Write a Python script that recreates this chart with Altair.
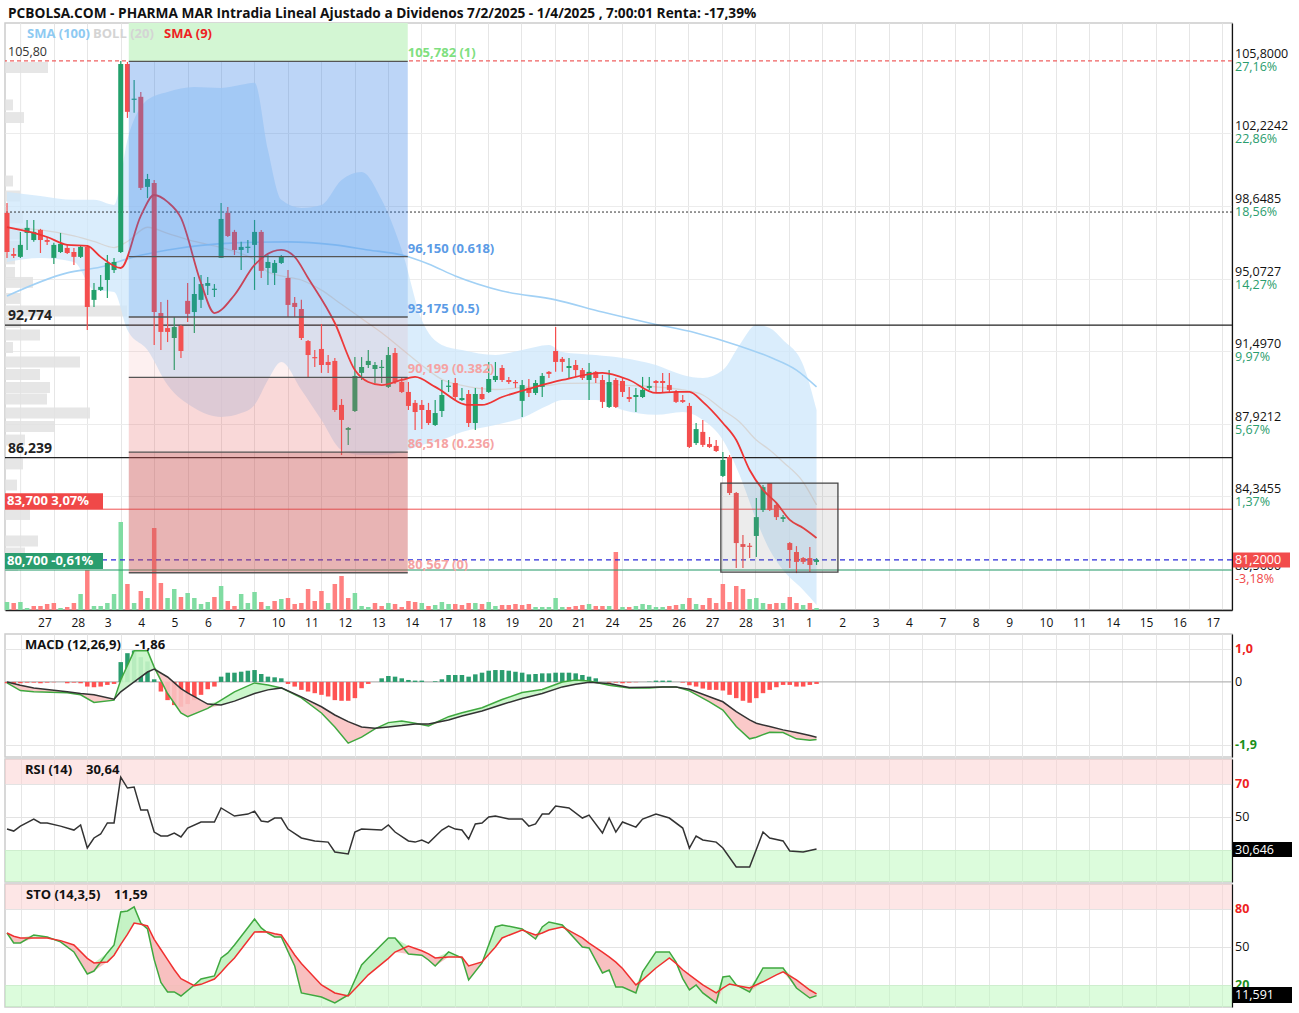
import altair as alt
import pandas as pd

FONT = "Open Sans"
W, H_MAIN, H_SUB = 1227, 587, 123
X0, X1 = -0.3, 183.1            # candle-index domain
P0, P1 = 78.73, 107.67          # price domain (EUR)
GRID0, GRID_STEP = 2.04, 4.99   # day boundaries in candle units
PX_PER_CANDLE = 6.69
EUR_PER_PX = 1 / 20.28

GREEN, RED = "#22a06b", "#f44e4e"
VGREEN, VRED = "#80dca2", "#ff8080"

# ---------------- data ----------------
day_labels = ["27", "28", "3", "4", "5", "6", "7", "10", "11", "12", "13", "14", "17", "18", "19", "20", "21",
              "24", "25", "26", "27", "28", "31", "1", "2", "3", "4", "7", "8", "9", "10", "11", "14", "15",
              "16", "17"]

c_open = [98.31, 96.28, 96.14, 97.32, 96.97, 97.47, 96.97, 96.09, 96.38, 96.58,
          96.38, 96.14, 96.63, 94.02, 94.51, 95.00, 95.49, 96.38, 105.65, 103.88,
          104.03, 99.59, 99.78, 93.37, 92.63, 92.14, 92.73, 93.97, 93.42, 94.02,
          94.71, 94.51, 96.09, 98.31, 97.37, 96.48, 96.58, 96.73, 97.37, 95.59,
          95.35, 95.84, 95.10, 93.87, 93.57, 91.99, 91.20, 91.60, 90.96, 91.01,
          88.84, 87.61, 88.54, 90.42, 90.81, 90.61, 90.66, 89.73, 91.40, 89.97,
          89.48, 88.94, 88.84, 88.59, 87.85, 88.54, 89.73, 89.92, 89.08, 89.38,
          87.95, 89.38, 89.48, 90.07, 90.66, 90.07, 89.97, 89.04, 89.68, 89.43,
          89.73, 90.47, 91.50, 91.11, 90.66, 90.81, 90.56, 90.07, 90.47, 90.07,
          88.74, 90.07, 90.02, 89.23, 89.23, 89.23, 89.68, 90.02, 90.02, 89.82,
          89.48, 89.08, 88.79, 86.96, 87.51, 86.91, 86.82, 85.34, 86.27, 84.50,
          81.98, 81.90, 82.38, 83.66, 84.99, 83.91, 83.22, 82.03, 81.59, 81.29,
          81.29, 81.10]
c_high = [98.80, 96.58, 97.37, 97.96, 97.96, 97.52, 97.12, 96.83, 97.32, 96.73,
          96.58, 96.73, 96.73, 94.85, 95.25, 96.23, 96.09, 105.80, 105.75, 104.86,
          104.27, 100.23, 99.93, 93.92, 94.02, 93.18, 92.78, 94.85, 95.15, 95.25,
          95.15, 94.80, 98.80, 98.60, 97.47, 96.88, 96.97, 97.96, 97.47, 96.23,
          95.99, 96.23, 95.49, 94.16, 94.02, 92.04, 91.55, 92.83, 91.30, 91.16,
          89.13, 87.75, 91.20, 91.20, 91.55, 90.96, 91.06, 91.70, 91.65, 90.22,
          89.97, 89.08, 89.08, 88.94, 89.08, 90.07, 90.07, 90.17, 89.68, 89.58,
          89.68, 89.73, 90.96, 90.96, 90.81, 90.22, 90.07, 90.07, 90.12, 90.07,
          90.42, 90.51, 92.68, 91.20, 91.16, 91.06, 90.66, 90.91, 90.51, 90.32,
          90.56, 90.17, 90.17, 89.73, 89.68, 90.22, 90.22, 90.07, 90.42, 90.42,
          89.58, 89.33, 88.94, 87.95, 88.10, 87.26, 87.11, 86.52, 86.37, 84.55,
          82.43, 82.03, 84.25, 84.89, 84.99, 84.01, 83.41, 82.08, 81.88, 81.34,
          81.84, 81.29]
c_low = [96.09, 96.09, 96.09, 96.48, 96.88, 96.33, 96.73, 95.79, 96.33, 96.28,
         95.74, 96.09, 92.54, 93.67, 94.46, 94.11, 95.35, 96.33, 102.99, 103.24,
         99.44, 99.04, 91.80, 91.55, 91.94, 90.56, 91.16, 92.93, 92.39, 93.62,
         94.26, 94.16, 96.09, 97.12, 96.23, 95.49, 96.33, 94.51, 95.10, 94.75,
         94.75, 95.79, 93.18, 93.18, 92.04, 90.22, 90.71, 90.42, 90.42, 88.49,
         86.37, 86.87, 88.49, 90.07, 90.66, 89.92, 89.92, 89.68, 89.87, 89.43,
         88.59, 87.61, 87.65, 87.85, 87.80, 88.25, 89.48, 89.08, 89.04, 87.75,
         87.61, 89.08, 89.43, 89.97, 89.97, 89.87, 89.68, 88.25, 89.23, 89.33,
         89.23, 90.17, 90.47, 90.47, 90.12, 90.22, 90.07, 89.08, 89.92, 88.69,
         88.69, 88.69, 89.23, 88.99, 88.49, 89.18, 89.58, 89.43, 89.43, 89.43,
         88.94, 88.94, 86.72, 86.87, 86.77, 86.72, 86.52, 85.29, 84.40, 80.80,
         80.80, 81.29, 81.34, 83.56, 83.61, 83.17, 83.07, 80.80, 80.55, 81.00,
         80.60, 80.95]
c_close = [96.38, 96.19, 96.73, 97.57, 97.37, 96.97, 96.88, 96.73, 96.78, 96.33,
           96.14, 96.63, 93.67, 94.51, 94.66, 95.84, 95.89, 105.65, 103.29, 103.93,
           99.54, 99.98, 93.42, 92.44, 92.44, 92.68, 91.50, 93.33, 94.31, 94.80,
           94.85, 94.56, 98.01, 97.17, 96.48, 96.63, 96.63, 97.37, 95.45, 95.89,
           95.84, 96.14, 93.77, 93.67, 92.14, 91.30, 91.16, 90.81, 90.81, 88.59,
           88.10, 87.70, 90.27, 90.71, 91.01, 90.81, 90.71, 91.30, 89.97, 89.48,
           88.79, 88.49, 88.59, 87.95, 88.44, 89.33, 89.77, 89.23, 89.18, 87.95,
           89.38, 89.13, 90.12, 90.27, 90.07, 89.97, 89.92, 89.82, 89.43, 89.92,
           90.27, 90.37, 90.96, 90.96, 90.76, 90.56, 90.17, 90.47, 90.17, 88.99,
           89.97, 88.74, 89.48, 89.13, 89.33, 89.58, 89.77, 89.92, 89.92, 89.58,
           88.99, 88.99, 86.77, 87.65, 86.87, 86.77, 86.57, 86.13, 84.50, 82.03,
           81.84, 81.84, 83.31, 84.79, 83.66, 83.31, 83.31, 81.69, 81.10, 81.10,
           80.95, 81.20]
c_vol = [8, 7, 8, 2, 4, 4, 6, 7, 2, 3,
         7, 16, 40, 4, 4, 7, 16, 88, 26, 7,
         19, 12, 82, 27, 12, 21, 13, 17, 12, 6,
         8, 13, 24, 9, 4, 16, 7, 18, 8, 4,
         9, 11, 12, 6, 7, 21, 9, 19, 7, 26,
         34, 12, 17, 4, 3, 7, 4, 7, 6, 3,
         9, 8, 7, 4, 5, 8, 6, 6, 5, 7,
         7, 6, 8, 4, 5, 5, 6, 5, 6, 3,
         3, 3, 12, 3, 3, 4, 5, 6, 4, 4,
         4, 58, 3, 3, 4, 6, 5, 3, 3, 4,
         5, 6, 12, 6, 5, 12, 7, 26, 8, 24,
         21, 11, 12, 7, 6, 7, 7, 13, 7, 5,
         7, 2]

bb_i = [0, 5, 10, 13, 16, 18, 21, 24, 28, 32, 35, 37, 39, 41, 44, 47, 50, 53, 56, 59, 62, 65, 68, 73, 77,
        81, 83, 88, 92, 97, 101, 104, 107, 109.5, 112, 114, 116, 119, 121]
bb_up = [99.34, 99.14, 98.95, 98.95, 98.70, 101.90, 103.88, 104.27, 104.52, 104.47, 104.62, 104.72, 101.41,
         98.95, 98.55, 98.70, 99.93, 100.33, 98.95, 96.48, 93.03, 91.80, 91.55, 91.30, 91.55, 91.80, 91.45,
         91.30, 91.16, 90.81, 90.32, 90.17, 90.56, 91.80, 92.78, 92.63, 92.04, 90.81, 88.59]
bb_mid = [97.57, 97.47, 97.17, 96.90, 96.60, 96.90, 97.60, 97.30, 96.90, 96.60, 96.30, 96.00, 95.40, 95.20,
          95.00, 94.50, 93.80, 93.10, 92.40, 91.60, 90.80, 90.10, 89.80, 89.60, 89.70, 89.80, 89.90, 89.92,
          89.82, 89.73, 89.58, 89.33, 88.59, 88.00, 87.11, 86.62, 86.03, 85.04, 83.91]
bb_lo = [95.89, 96.09, 95.89, 94.51, 94.41, 92.54, 91.55, 89.82, 88.69, 88.25, 88.44, 88.84, 90.07, 90.96,
         89.58, 88.10, 86.62, 86.37, 86.37, 86.52, 86.86, 87.11, 87.50, 87.85, 88.20, 88.84, 89.08, 89.08,
         88.59, 88.35, 88.49, 88.10, 87.11, 85.39, 83.17, 81.69, 80.70, 79.72, 78.98]

s100_i = [0, 9, 14, 19, 24, 34, 42, 49, 54, 59, 63, 67, 74, 82, 89, 96, 103, 109, 114, 118, 121]
s100_v = [94.21, 95.35, 95.64, 96.14, 96.48, 96.83, 96.88, 96.73, 96.48, 96.23, 95.79, 95.20, 94.46, 94.02,
          93.42, 92.88, 92.39, 91.80, 91.20, 90.56, 89.73]

s9_i = [0, 2, 4, 6, 9, 12, 14, 17, 20, 22, 24, 26, 29, 31, 34, 37, 41, 43, 45, 49, 52, 54, 56, 59, 61, 64,
        69, 71, 74, 79, 83, 89, 93, 97, 100, 102, 104, 107, 109, 111, 113, 115, 117, 119, 121]
s9_v = [97.61, 97.47, 97.32, 97.12, 96.73, 96.68, 96.14, 95.59, 98.16, 99.19, 98.85, 98.06, 94.85, 93.37,
        94.26, 95.74, 96.48, 96.14, 95.10, 92.88, 90.56, 89.97, 89.82, 90.07, 90.22, 89.73, 88.84, 88.84,
        89.23, 89.73, 90.07, 90.42, 90.07, 89.43, 89.48, 89.48, 88.99, 87.95, 87.11, 85.63, 84.65, 84.01,
        83.17, 82.77, 82.28]

vp_price = [105.48, 103.63, 103.01, 99.88, 99.14, 98.06, 97.27, 96.65, 96.04, 95.37, 94.88, 94.09, 93.47,
            92.91, 92.29, 91.67, 90.96, 90.34, 89.70, 89.13, 88.44, 87.78, 87.11, 85.93, 84.89, 83.44,
            82.13, 81.54, 80.92]
vp_vol = [43, 8, 19, 8, 15, 18, 15, 18, 10, 10, 28, 15, 122, 15, 35, 8, 75, 35, 45, 42, 85, 50, 20, 18, 12,
          25, 33, 20, 13]

fib_levels = [105.782, 96.150, 93.175, 90.199, 86.518, 80.567]
fib_text = ["105,782 (1)", "96,150 (0.618)", "93,175 (0.5)", "90,199 (0.382)", "86,518 (0.236)", "80,567 (0)"]
fib_from, fib_to = 18.2, 59.9

price_ticks = [105.8, 102.2242, 98.6485, 95.0727, 91.497, 87.9212, 84.3455, 80.56]
price_txt = ["105,8000", "102,2242", "98,6485", "95,0727", "91,4970", "87,9212", "84,3455", "80,5600"]
pct_txt = ["27,16%", "22,86%", "18,56%", "14,27%", "9,97%", "5,67%", "1,37%", "-3,18%"]
grid_prices = [102.2242, 98.6485, 95.0727, 91.497, 87.9212, 84.3455, 80.7697]

range_box = {"x0": 106.7, "x1": 124.2, "lo": 80.60, "hi": 84.99}
last_price = 81.20

macd_hist = [-0.04, -0.06, -0.04, -0.02, -0.02, -0.04, -0.02, -0.01, 0.0, -0.04,
             -0.02, -0.04, -0.14, -0.16, -0.14, -0.09, -0.06, 0.6, 0.87, 0.95,
             0.75, 0.62, 0.08, -0.29, -0.55, -0.7, -0.75, -0.67, -0.55, -0.39,
             -0.22, -0.14, 0.16, 0.28, 0.28, 0.31, 0.34, 0.36, 0.24, 0.16,
             0.14, 0.11, -0.06, -0.14, -0.24, -0.29, -0.34, -0.39, -0.44, -0.55,
             -0.57, -0.57, -0.49, -0.19, -0.06, 0.0, 0.11, 0.18, 0.16, 0.11,
             0.06, 0.04, 0.04, 0.0, 0.02, 0.08, 0.21, 0.21, 0.21, 0.16,
             0.23, 0.28, 0.34, 0.36, 0.36, 0.34, 0.31, 0.28, 0.23, 0.24,
             0.26, 0.26, 0.28, 0.28, 0.28, 0.26, 0.21, 0.16, 0.11, 0.0,
             -0.02, -0.02, -0.04, -0.02, -0.01, 0.0, 0.01, 0.04, 0.04, 0.04,
             0.0, -0.02, -0.1, -0.14, -0.2, -0.24, -0.24, -0.26, -0.39, -0.49,
             -0.57, -0.63, -0.49, -0.34, -0.24, -0.16, -0.09, -0.09, -0.14, -0.14,
             -0.09, -0.06]
macd_i = [0, 2, 4, 9, 11, 13, 16, 17, 19, 21, 22, 24, 26, 27, 30, 32, 34, 37, 39, 41, 44, 47, 49, 51, 53, 55,
          57, 59, 61, 63, 66, 68, 71, 74, 77, 80, 83, 85, 87, 90, 93, 96, 98, 100, 102, 105, 107, 109, 111,
          112, 114, 116, 118, 120, 121]
macd_v = [-0.03, -0.26, -0.3, -0.33, -0.39, -0.62, -0.55, 0.06, 0.94, 0.94, 0.45, -0.35, -0.94, -1.05, -0.8,
          -0.55, -0.3, -0.03, -0.09, -0.18, -0.48, -0.94, -1.36, -1.85, -1.67, -1.42, -1.23, -1.18, -1.25,
          -1.33, -1.05, -0.93, -0.78, -0.53, -0.32, -0.23, 0.0, 0.06, 0.03, -0.1, -0.18, -0.18, -0.15,
          -0.15, -0.27, -0.6, -0.85, -1.35, -1.72, -1.67, -1.52, -1.53, -1.72, -1.76, -1.74]
macd_sig = [0.0, -0.1, -0.18, -0.3, -0.35, -0.39, -0.52, -0.3, 0.0, 0.3, 0.39, 0.15, -0.2, -0.33, -0.67,
            -0.7, -0.58, -0.35, -0.24, -0.18, -0.45, -0.75, -1.0, -1.2, -1.36, -1.4, -1.36, -1.32, -1.27,
            -1.27, -1.15, -1.03, -0.88, -0.68, -0.5, -0.35, -0.15, -0.07, -0.01, -0.05, -0.17, -0.16, -0.15,
            -0.15, -0.22, -0.45, -0.6, -0.9, -1.15, -1.25, -1.35, -1.45, -1.53, -1.62, -1.67]

rsi_i = [0, 1, 2, 4, 5, 6, 8, 10, 11, 12, 13, 14, 15, 16, 17, 18, 19, 20, 21, 22, 23, 24, 25, 26, 27, 29, 31,
         32, 34, 36, 37, 38, 39, 40, 41, 42, 44, 46, 48, 49, 51, 52, 53, 56, 57, 58, 60, 61, 62, 63, 65, 66,
         67, 68, 69, 70, 71, 72, 73, 75, 77, 78, 79, 80, 81, 82, 84, 86, 87, 89, 90, 91, 92, 94, 95, 97, 99,
         101, 102, 103, 104, 106, 107, 109, 111, 113, 114, 116, 117, 119, 121]
rsi_v = [42.7, 41.5, 44.5, 48.8, 46.4, 46.4, 44.5, 42.1, 45.2, 31.2, 37.3, 39.7, 46.4, 46.4, 74.2, 67.6, 68.2,
         54.2, 54.2, 40.9, 38.5, 38.5, 40.3, 37.9, 43.3, 47.0, 47.0, 55.5, 50.6, 51.8, 53.6, 47.6, 47.0, 49.4,
         49.4, 42.7, 37.3, 35.5, 34.8, 28.8, 27.6, 40.9, 42.7, 42.1, 45.2, 40.9, 35.5, 34.8, 36.1, 34.2, 42.1,
         44.5, 42.7, 42.1, 36.7, 45.8, 46.4, 50.0, 50.6, 48.8, 48.8, 44.5, 45.8, 51.8, 51.8, 56.7, 55.5, 49.4,
         51.2, 40.3, 49.4, 40.9, 47.0, 43.9, 48.8, 51.8, 49.4, 43.3, 31.2, 38.5, 36.1, 34.8, 31.2, 19.7, 19.7,
         40.9, 37.3, 35.5, 29.4, 28.8, 30.6]

sto_i = [0, 1, 2, 4, 6, 8, 10, 12, 13, 15, 16, 17, 18, 19, 20, 21, 22, 23, 24, 25, 26, 28, 29, 31, 32, 33, 34,
         37, 38, 39, 40, 41, 43, 44, 47, 49, 51, 53, 54, 57, 58, 60, 62, 63, 64, 66, 68, 69, 71, 73, 74, 77,
         79, 80, 81, 83, 86, 87, 89, 90, 91, 92, 94, 95, 97, 99, 100, 101, 102, 103, 104, 106, 107, 108, 109,
         111, 113, 115, 116, 118, 120, 121]
sto_k = [61, 53.2, 53.2, 59.5, 57.9, 54, 46.1, 28.7, 31, 45.3, 51.6, 77.6, 78.4, 81.6, 68.9, 64.2, 40, 22,
         14.5, 14.5, 11.3, 20, 24.7, 27.1, 41.3, 45.3, 51.6, 72, 65, 61, 57.9, 57.9, 35, 13.7, 10.5, 5.8,
         12.1, 35.8, 41.3, 57.1, 57.1, 44.5, 43.5, 39.7, 35, 46.1, 41.3, 24, 37.4, 65.8, 67.4, 64.2, 56.3,
         65.8, 69.7, 67.4, 50, 49.2, 29.5, 31.8, 18.4, 18.4, 13.7, 30.3, 46.1, 46.1, 38, 25, 16.1, 20, 13.7,
         5.8, 26.3, 27.1, 20, 14.5, 33.4, 33.4, 33.4, 17.6, 9.7, 11.6]
sto_d = [61, 58.5, 57.1, 57.1, 57.1, 55, 51.6, 41, 37.4, 38.2, 43.5, 52, 60, 68.9, 68, 66.6, 56, 48, 40, 32,
         25, 19.5, 20.5, 24.7, 30, 36, 41.3, 61.8, 62, 61.8, 60.5, 59.5, 43.7, 37, 20, 13.7, 11.3, 22.4, 28,
         41, 46, 50.8, 47, 44.5, 41.3, 42.1, 42.1, 35, 38.2, 50, 57.1, 63.4, 59.5, 61, 63.4, 65.8, 57.1, 53,
         46, 42.1, 38, 33, 20, 24, 33.4, 41.3, 37, 32, 27.9, 24, 20, 13.7, 17.5, 20.8, 19.5, 17.6, 22.5, 28,
         30.3, 24, 16, 13]

# ---------------- axes & scales ----------------
grid_vals = [round(GRID0 + GRID_STEP * k, 3) for k in range(1, len(day_labels) + 1)]
lab_js = "[" + ",".join("'" + s + "'" for s in [""] + day_labels) + "]"
label_expr = lab_js + "[round((datum.value - %s) / %s)]" % (GRID0, GRID_STEP)

XS = alt.Scale(domain=[X0, X1], nice=False, zero=False, padding=0)
XAX_MAIN = alt.Axis(values=grid_vals, grid=True, gridColor="#e6e6e6", ticks=False, domain=True,
                    domainColor="#222222", domainWidth=1.5, labelExpr=label_expr, labelOffset=-16.5,
                    labelAlign="left", labelPadding=7, labelFontSize=12, labelFont=FONT,
                    labelColor="#111111", labelOverlap=False, labelFlush=False, title=None)
XAX_SUB = alt.Axis(values=[GRID0] + grid_vals, grid=True, gridColor="#e6e6e6", ticks=False, domain=False,
                   labels=False, title=None)


def XM(field):
    return alt.X(field, type="quantitative", scale=XS, axis=XAX_MAIN)


def XSUB(field):
    return alt.X(field, type="quantitative", scale=XS, axis=XAX_SUB)


PS = alt.Scale(domain=[P0, P1], nice=False, zero=False, padding=0)
YAX_MAIN = alt.Axis(orient="right", values=grid_prices, grid=True, gridColor="#ececec", ticks=False,
                    labels=False, domain=True, domainColor="#111111", domainWidth=1.2, title=None)


def PY(field):
    return alt.Y(field, type="quantitative", scale=PS, axis=YAX_MAIN)


def label(text, x, y, color="#222222", size=12, weight="normal", align="left", dx=0, dy=0, opacity=1.0):
    return alt.Chart(pd.DataFrame({"t": [text]})).mark_text(
        align=align, baseline="middle", color=color, fontSize=size, fontWeight=weight, font=FONT,
        dx=dx, dy=dy, opacity=opacity).encode(x=x, y=y, text="t:N")


# ---------------- main panel ----------------
N = len(c_close)
prev_close = [c_close[0]] + c_close[:-1]
cdf = pd.DataFrame({"i": list(range(N)), "o": c_open, "h": c_high, "l": c_low, "c": c_close, "v": c_vol})
cdf["col"] = [GREEN if c >= o else RED for o, c in zip(c_open, c_close)]
cdf["cb"] = [c if abs(c - o) >= 0.06 else (o + 0.06 if c >= o else o - 0.06) for o, c in zip(c_open, c_close)]
cdf["vcol"] = [VGREEN if c >= p else VRED for c, p in zip(c_close, prev_close)]
cdf["vb"] = P0
cdf["vt"] = P0 + cdf["v"] * EUR_PER_PX

vpdf = pd.DataFrame({"p": vp_price, "w": vp_vol})
vpdf["x0"] = X0
vpdf["x1"] = X0 + vpdf["w"] / PX_PER_CANDLE
vpdf["ya"] = vpdf["p"] - 0.27
vpdf["yb"] = vpdf["p"] + 0.27

bbdf = pd.DataFrame({"i": bb_i, "up": bb_up, "mid": bb_mid, "lo": bb_lo})
s100df = pd.DataFrame({"i": s100_i, "v": s100_v})
s9df = pd.DataFrame({"i": s9_i, "v": s9_v})

zone_top = [P1] + fib_levels[:-1]
zone_bot = fib_levels
zdf = pd.DataFrame({"x0": fib_from, "x1": fib_to, "ya": zone_top, "yb": zone_bot,
                    "col": ["#d3f6d3", "#3481e8", "#3481e8", "#e86a6a", "#e85a5a", "#c84c4c"],
                    "op": [1.0, 0.33, 0.2, 0.1, 0.24, 0.42]})
fldf = pd.DataFrame({"x0": fib_from, "x1": fib_to, "p": fib_levels, "t": fib_text,
                     "tc": ["#7fe07f", "#5b9be6", "#5b9be6", "#f5a3a3", "#f5a3a3", "#f5a3a3"]})

layers = [alt.Chart(pd.DataFrame({"g": [GRID0]})).mark_rule(color="#e6e6e6", strokeWidth=1).encode(x=XM("g"))]
layers.append(alt.Chart(vpdf).mark_rect(color="#e2e2e2", opacity=0.85).encode(
    x=XM("x0"), x2="x1", y=PY("ya"), y2="yb"))
layers.append(alt.Chart(bbdf).mark_area(color="#cde7fb", opacity=0.75, interpolate="monotone").encode(
    x=XM("i"), y=PY("up"), y2="lo"))
layers.append(alt.Chart(bbdf).mark_line(color="#d6d6d6", strokeWidth=1.3, interpolate="monotone").encode(
    x=XM("i"), y=PY("mid")))
layers.append(alt.Chart(s100df).mark_line(color="#a2d1f5", strokeWidth=1.6, interpolate="monotone").encode(
    x=XM("i"), y=PY("v")))
layers.append(alt.Chart(cdf).mark_bar(size=4.5).encode(
    x=XM("i"), y=PY("vt"), y2="vb", color=alt.Color("vcol:N", scale=None)))

hl = [(105.8, "#f06060", 1.2, [4, 3]), (98.35, "#333333", 1.0, [2, 2]), (92.774, "#222222", 1.2, None),
      (86.239, "#222222", 1.2, None), (83.7, "#f05050", 1.0, None), (last_price, "#2b2bd9", 1.2, [5, 4]),
      (80.7, "#2a9d6e", 1.0, None)]
for p, col, sw, dash in hl:
    kw = dict(color=col, strokeWidth=sw)
    if dash:
        kw["strokeDash"] = dash
    layers.append(alt.Chart(pd.DataFrame({"p": [p]})).mark_rule(**kw).encode(y=PY("p")))

layers.append(alt.Chart(cdf).mark_rule(strokeWidth=1.2).encode(
    x=XM("i"), y=PY("l"), y2="h", color=alt.Color("col:N", scale=None)))
layers.append(alt.Chart(cdf).mark_bar(size=5).encode(
    x=XM("i"), y=PY("o"), y2="cb", color=alt.Color("col:N", scale=None)))
layers.append(alt.Chart(s9df).mark_line(color="#ee3535", strokeWidth=1.8, interpolate="monotone").encode(
    x=XM("i"), y=PY("v")))
layers.append(alt.Chart(zdf).mark_rect().encode(
    x=XM("x0"), x2="x1", y=PY("ya"), y2="yb", color=alt.Color("col:N", scale=None),
    opacity=alt.Opacity("op:Q", scale=None)))
layers.append(alt.Chart(fldf).mark_rule(color="#555555", strokeWidth=1.3).encode(
    x=XM("x0"), x2="x1", y=PY("p")))
layers.append(alt.Chart(pd.DataFrame([range_box])).mark_rect(
    color="#8a8a8a", fillOpacity=0.16, stroke="#444444", strokeWidth=1.3).encode(
    x=XM("x0"), x2="x1", y=PY("lo"), y2="hi"))
layers.append(alt.Chart(fldf).mark_text(align="left", baseline="middle", fontSize=13, fontWeight="bold",
                                        font=FONT, dx=0, dy=-8).encode(
    x=XM("x1"), y=PY("p"), text="t:N", color=alt.Color("tc:N", scale=None)))

# left line labels
layers.append(label("105,80", alt.value(3), PY("p"), "#333333", 12.5, dy=-9).transform_calculate(p="105.8"))
layers.append(label("92,774", alt.value(3), PY("p"), "#222222", 14, "bold", dy=-9).transform_calculate(p="92.774"))
layers.append(label("86,239", alt.value(3), PY("p"), "#222222", 14, "bold", dy=-9).transform_calculate(p="86.239"))
boxes = pd.DataFrame({"a": [83.7, 80.75], "b": [83.7 + 16 * EUR_PER_PX, 80.75 + 16 * EUR_PER_PX],
                      "col": ["#f04848", "#2a9d6e"], "t": ["83,700  3,07%", "80,700  -0,61%"]})
boxes["m"] = (boxes["a"] + boxes["b"]) / 2
layers.append(alt.Chart(boxes).mark_rect().encode(x=alt.value(0), x2=alt.value(98), y=PY("a"), y2="b",
                                                   color=alt.Color("col:N", scale=None)))
layers.append(alt.Chart(boxes).mark_text(align="left", baseline="middle", color="white", fontSize=13,
                                         fontWeight="bold", font=FONT).encode(
    x=alt.value(2), y=PY("m"), text="t:N"))

# right price axis labels
rdf = pd.DataFrame({"p": price_ticks, "t": price_txt, "pt": pct_txt,
                    "pc": ["#2a9d6e"] * 7 + ["#f04848"]})
layers.append(alt.Chart(rdf).mark_text(align="left", baseline="middle", fontSize=12.5, font=FONT,
                                       color="#111111", dy=-7).encode(x=alt.value(W + 3), y=PY("p"), text="t:N"))
layers.append(alt.Chart(rdf).mark_text(align="left", baseline="middle", fontSize=12.5, font=FONT, dy=6).encode(
    x=alt.value(W + 3), y=PY("p"), text="pt:N", color=alt.Color("pc:N", scale=None)))
lp = pd.DataFrame({"a": [last_price - 7.5 * EUR_PER_PX], "b": [last_price + 7.5 * EUR_PER_PX],
                   "p": [last_price], "t": ["81,2000"]})
layers.append(alt.Chart(lp).mark_rect(color="#f24c4c").encode(x=alt.value(W + 1), x2=alt.value(W + 58),
                                                              y=PY("a"), y2="b"))
layers.append(alt.Chart(lp).mark_text(align="left", baseline="middle", fontSize=12.5, font=FONT,
                                      color="white").encode(x=alt.value(W + 3), y=PY("p"), text="t:N"))

# title, legend and spacer below axis
layers.append(label("PCBOLSA.COM - PHARMA MAR Intradia Lineal Ajustado a Dividenos 7/2/2025 - 1/4/2025 , "
                    "7:00:01 Renta: -17,39%", alt.value(3), alt.value(-9), "#111111", 13.7, "bold"))
layers.append(label("SMA (100)", alt.value(22), alt.value(11), "#8ecaf2", 13, "bold"))
layers.append(label("BOLL (20)", alt.value(88), alt.value(11), "#d4d4d4", 13, "bold"))
layers.append(label("SMA (9)", alt.value(159), alt.value(11), "#ee2222", 13, "bold"))
layers.append(label(".", alt.value(10), alt.value(H_MAIN + 16), "#ffffff", 12, opacity=0.0))

main = alt.layer(*layers).properties(width=W, height=H_MAIN)

PINK_BAND, GREEN_BAND = "#fccdcd", "#b9f9b9"

# ---------------- MACD ----------------
MS = alt.Scale(domain=[-2.27, 1.45], nice=False, zero=False, padding=0)
MAX = alt.Axis(orient="right", values=[1.0, -1.9], grid=True, gridColor="#e6e6e6", ticks=False, labels=False,
               domain=True, domainColor="#111111", domainWidth=1.2, title=None)


def MY(field):
    return alt.Y(field, type="quantitative", scale=MS, axis=MAX)


hdf = pd.DataFrame({"i": list(range(N)), "h": macd_hist})
hdf["z"] = 0.0
hdf["col"] = ["#2a9d6e" if v >= 0 else "#ff5252" for v in macd_hist]
mdf = pd.DataFrame({"i": macd_i, "m": macd_v, "s": macd_sig})
mdf["gt"] = mdf[["m", "s"]].max(axis=1)
mdf["lt"] = mdf[["m", "s"]].min(axis=1)
macd = alt.layer(
    alt.Chart(pd.DataFrame({"p": [0.0]})).mark_rule(color="#b5b5b5", strokeWidth=1.3).encode(y=MY("p")),
    alt.Chart(hdf).mark_bar(size=4.5).encode(x=XSUB("i"), y=MY("h"), y2="z", color=alt.Color("col:N", scale=None)),
    alt.Chart(mdf).mark_area(color="#c6f5c6", opacity=0.9).encode(x=XSUB("i"), y=MY("gt"), y2="s"),
    alt.Chart(mdf).mark_area(color="#f9c3c3", opacity=0.9).encode(x=XSUB("i"), y=MY("lt"), y2="s"),
    alt.Chart(mdf).mark_line(color="#3fa83f", strokeWidth=1.5).encode(x=XSUB("i"), y=MY("m")),
    alt.Chart(mdf).mark_line(color="#333333", strokeWidth=1.5).encode(x=XSUB("i"), y=MY("s")),
    label("MACD (12,26,9)", alt.value(20), alt.value(11), "#111111", 13, "bold"),
    label("-1,86", alt.value(130), alt.value(11), "#111111", 13, "bold"),
    label("1,0", alt.value(W + 3), MY("p"), "#ee2222", 12.5, "bold").transform_calculate(p="1.0"),
    label("0", alt.value(W + 3), MY("p"), "#111111", 12.5).transform_calculate(p="0"),
    label("-1,9", alt.value(W + 3), MY("p"), "#1a8f1a", 12.5, "bold").transform_calculate(p="-1.9"),
).properties(width=W, height=H_SUB)


# ---------------- RSI ----------------
RS = alt.Scale(domain=[10.6, 85.2], nice=False, zero=False, padding=0)
RAX = alt.Axis(orient="right", values=[70, 50, 30], grid=True, gridColor="#e3e3e3", ticks=False, labels=False,
               domain=True, domainColor="#111111", domainWidth=1.2, title=None)


def RY(field):
    return alt.Y(field, type="quantitative", scale=RS, axis=RAX)


bands_r = pd.DataFrame({"a": [70, 10.6], "b": [85.2, 30], "col": [PINK_BAND, GREEN_BAND]})
rdf2 = pd.DataFrame({"i": rsi_i, "v": rsi_v})
rbox = pd.DataFrame({"a": [30.3 - 4.6], "b": [30.3 + 4.6], "p": [30.3], "t": ["30,646"]})
rsi = alt.layer(
    alt.Chart(bands_r).mark_rect(opacity=0.5).encode(x=alt.value(0), x2=alt.value(W), y=RY("a"), y2="b",
                                                     color=alt.Color("col:N", scale=None)),
    alt.Chart(rdf2).mark_line(color="#333333", strokeWidth=1.5).encode(x=XSUB("i"), y=RY("v")),
    label("RSI (14)", alt.value(20), alt.value(11), "#111111", 13, "bold"),
    label("30,64", alt.value(81), alt.value(11), "#111111", 13, "bold"),
    label("70", alt.value(W + 3), RY("p"), "#ee2222", 12.5, "bold").transform_calculate(p="70"),
    label("50", alt.value(W + 3), RY("p"), "#111111", 12.5).transform_calculate(p="50"),
    alt.Chart(rbox).mark_rect(color="#000000").encode(x=alt.value(W + 1), x2=alt.value(W + 60), y=RY("a"), y2="b"),
    alt.Chart(rbox).mark_text(align="left", baseline="middle", color="white", fontSize=12.5, font=FONT).encode(
        x=alt.value(W + 3), y=RY("p"), text="t:N"),
).properties(width=W, height=H_SUB)

# ---------------- STO ----------------
SS = alt.Scale(domain=[2.6, 99.7], nice=False, zero=False, padding=0)
SAX = alt.Axis(orient="right", values=[80, 50, 20], grid=True, gridColor="#e3e3e3", ticks=False, labels=False,
               domain=True, domainColor="#111111", domainWidth=1.2, title=None)


def SY(field):
    return alt.Y(field, type="quantitative", scale=SS, axis=SAX)


bands_s = pd.DataFrame({"a": [80, 2.6], "b": [99.7, 20], "col": [PINK_BAND, GREEN_BAND]})
sdf = pd.DataFrame({"i": sto_i, "k": sto_k, "d": sto_d})
sdf["gt"] = sdf[["k", "d"]].max(axis=1)
sdf["lt"] = sdf[["k", "d"]].min(axis=1)
sbox = pd.DataFrame({"a": [12.1 - 6.3], "b": [12.1 + 6.3], "p": [12.1], "t": ["11,591"]})
sto = alt.layer(
    alt.Chart(bands_s).mark_rect(opacity=0.5).encode(x=alt.value(0), x2=alt.value(W), y=SY("a"), y2="b",
                                                     color=alt.Color("col:N", scale=None)),
    alt.Chart(sdf).mark_area(color="#bff2bf", opacity=0.9).encode(x=XSUB("i"), y=SY("gt"), y2="d"),
    alt.Chart(sdf).mark_area(color="#f7b9b9", opacity=0.9).encode(x=XSUB("i"), y=SY("lt"), y2="d"),
    alt.Chart(sdf).mark_line(color="#3fa83f", strokeWidth=1.5).encode(x=XSUB("i"), y=SY("k")),
    alt.Chart(sdf).mark_line(color="#f03030", strokeWidth=1.5).encode(x=XSUB("i"), y=SY("d")),
    label("STO (14,3,5)", alt.value(21), alt.value(11), "#111111", 13, "bold"),
    label("11,59", alt.value(109), alt.value(11), "#111111", 13, "bold"),
    label("80", alt.value(W + 3), SY("p"), "#ee2222", 12.5, "bold").transform_calculate(p="80"),
    label("50", alt.value(W + 3), SY("p"), "#111111", 12.5).transform_calculate(p="50"),
    label("20", alt.value(W + 3), SY("p"), "#1a8f1a", 12.5, "bold").transform_calculate(p="20"),
    alt.Chart(sbox).mark_rect(color="#000000").encode(x=alt.value(W + 1), x2=alt.value(W + 60), y=SY("a"), y2="b"),
    alt.Chart(sbox).mark_text(align="left", baseline="middle", color="white", fontSize=12.5, font=FONT).encode(
        x=alt.value(W + 3), y=SY("p"), text="t:N"),
).properties(width=W, height=H_SUB)

chart = alt.vconcat(main, macd, rsi, sto, spacing=0).properties(
    padding={"left": 2, "right": 2, "top": 6, "bottom": 2}, background="white"
).configure(font=FONT).configure_view(stroke="#cccccc", strokeWidth=1.5)

chart.save("out.html", embed_options={"renderer": "svg", "actions": False})
